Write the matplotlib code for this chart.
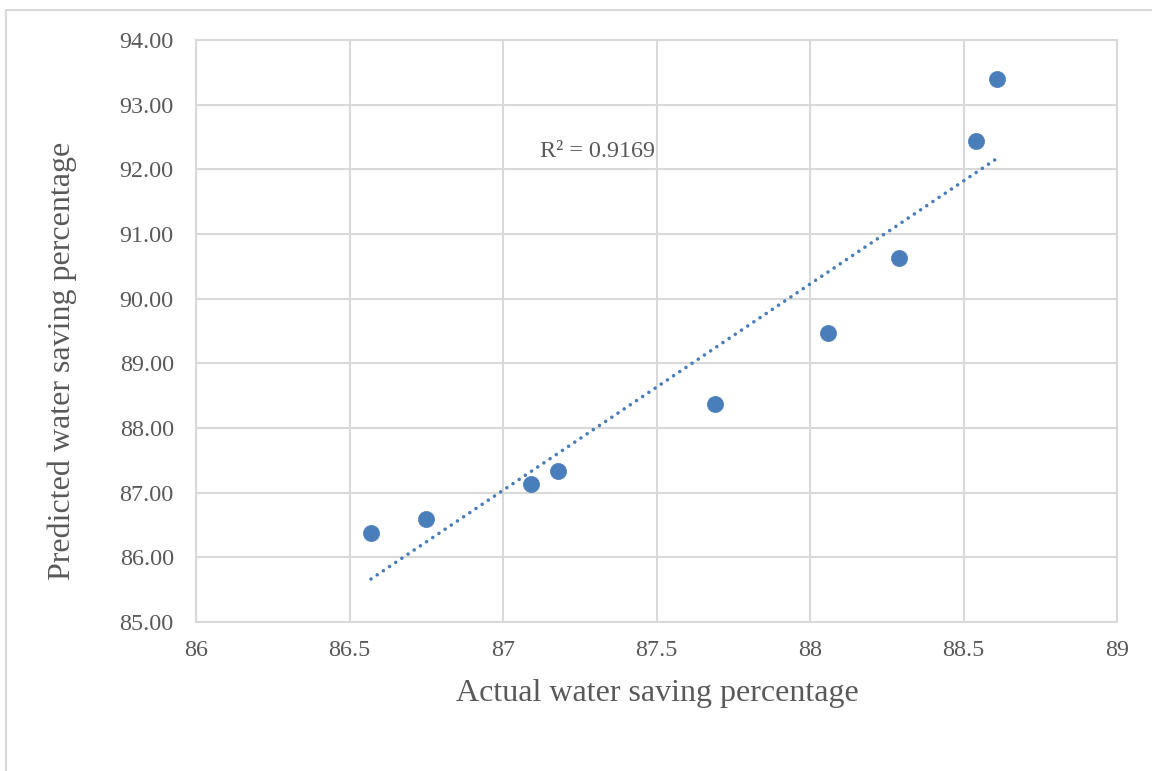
import numpy as np
import matplotlib
matplotlib.use("Agg")
import matplotlib.pyplot as plt
from matplotlib.patches import Rectangle

plt.rcParams['font.family'] = ['Liberation Serif', 'DejaVu Serif']

# Actual vs. predicted water saving percentage
actual = [86.57, 86.75, 87.09, 87.18, 87.69, 88.06, 88.29, 88.54, 88.61]
predicted = [86.38, 86.60, 87.13, 87.34, 88.37, 89.47, 90.63, 92.44, 93.40]
x_ticks = [86, 86.5, 87, 87.5, 88, 88.5, 89]
y_ticks = [85, 86, 87, 88, 89, 90, 91, 92, 93, 94]
r2_label = "R² = 0.9169"

point_color = "#4A7EBB"
grid_color = "#D9D9D9"
text_color = "#595959"

W, H = 1152, 771
fig = plt.figure(figsize=(W / 100, H / 100), dpi=100)
ax = fig.add_axes([196 / W, 1 - 622 / H, (1117 - 196) / W, (622 - 40) / H])

# Chart-area frame
fig.patches.append(Rectangle((6 / W, -0.1), 1.2, 1 - 10 / H + 0.1,
                             transform=fig.transFigure, fill=False,
                             edgecolor=grid_color, linewidth=1.5, zorder=0))

# Linear trend line across the data range
coef = np.polyfit(actual, predicted, 1)
xs = np.array([min(actual), max(actual)])
ax.plot(xs, np.polyval(coef, xs), color=point_color, linewidth=2.6,
        linestyle=(0, (0.01, 2.05)), dash_capstyle='round', zorder=2)

ax.scatter(actual, predicted, s=135, color=point_color, edgecolors=point_color,
           linewidths=0.5, zorder=3)

ax.text(87.12, 92.27, r2_label, fontsize=17.4, color=text_color, va='center', ha='left')

ax.set_xlim(86, 89)
ax.set_ylim(85, 94)
ax.set_xticks(x_ticks)
ax.set_xticklabels([f"{v:g}" for v in x_ticks])
ax.set_yticks(y_ticks)
ax.set_yticklabels([f"{v:.2f}" for v in y_ticks])
ax.grid(True, color=grid_color, linewidth=1.5)
ax.set_axisbelow(True)
for side in ax.spines.values():
    side.set_color(grid_color)
    side.set_linewidth(1.5)
ax.tick_params(length=0, labelsize=17.4, labelcolor=text_color)
ax.tick_params(axis='y', pad=16)
ax.tick_params(axis='x', pad=13)

fig.text(657 / W, 1 - 693 / H, "Actual water saving percentage", fontsize=23,
         color=text_color, ha='center', va='center')
fig.text(62 / W, 1 - 361 / H, "Predicted water saving percentage", fontsize=23,
         color=text_color, ha='center', va='center', rotation=90)

fig.savefig("out.png", dpi=100, facecolor="white")
